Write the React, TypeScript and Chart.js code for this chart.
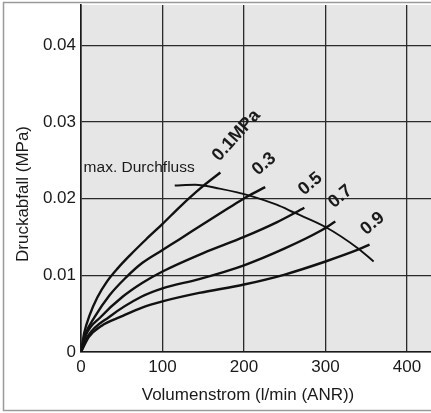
import React, { useEffect, useRef } from "react";
import { Chart, registerables } from "chart.js";

Chart.register(...registerables);

// Flow (l/min ANR) and pressure drop (MPa) per inlet pressure
const flow01 = [0, 4, 10.6, 20, 32, 45, 60, 80, 100, 122, 146, 171];
const drop01 = [0, 0.0025, 0.0048, 0.0071, 0.0092, 0.0109, 0.0126, 0.0147, 0.0167, 0.019, 0.0213, 0.0234];

const flow03 = [0, 5, 17, 35, 55, 75, 100, 121, 150, 180, 203, 226];
const drop03 = [0, 0.0022, 0.0046, 0.0074, 0.0097, 0.0116, 0.0133, 0.0147, 0.0167, 0.0187, 0.0202, 0.0215];

const flow05 = [0, 6, 24.5, 51, 75, 100, 150, 200, 240, 274];
const drop05 = [0, 0.0022, 0.0046, 0.0072, 0.009, 0.0105, 0.0129, 0.015, 0.0169, 0.0188];

const flow07 = [0, 8, 35, 74, 100, 145, 200, 250, 294, 312];
const drop07 = [0, 0.002, 0.0046, 0.0072, 0.0083, 0.0095, 0.0113, 0.0135, 0.0158, 0.017];

const flow09 = [0, 10, 25, 49, 75, 100, 145, 200, 250, 300, 339, 354];
const drop09 = [0, 0.002, 0.0034, 0.0046, 0.0058, 0.0066, 0.0077, 0.0088, 0.0101, 0.0118, 0.0133, 0.014];

// max. flow limit curve
const flowMax = [115, 140, 170, 210, 240, 261, 300, 340, 359];
const dropMax = [0.0217, 0.0218, 0.0213, 0.0203, 0.0192, 0.0182, 0.0163, 0.0135, 0.0118];

const pressureLabels = ["0.1MPa", "0.3", "0.5", "0.7", "0.9"];
const xTickValues = [0, 100, 200, 300, 400];
const xTickLabels = ["0", "100", "200", "300", "400"];
const yTickValues = [0, 0.01, 0.02, 0.03, 0.04];
const yTickLabels = ["0", "0.01", "0.02", "0.03", "0.04"];
const xTitle = "Volumenstrom (l/min (ANR))";
const yTitle = "Druckabfall (MPa)";
const maxFlowLabel = "max. Durchfluss";

const FONT = "'Liberation Sans', Arial, Helvetica, sans-serif";

const toPoints = (xs: number[], ys: number[]) => xs.map((x, i) => ({ x, y: ys[i] }));

// label offsets in pixels from each curve's end point, rotation in degrees
const labelStyle = [
  { dx: 16, dy: -37, rot: -48 },
  { dx: -1, dy: -23, rot: -41 },
  { dx: 6, dy: -24, rot: -40 },
  { dx: 5, dy: -25, rot: -40 },
  { dx: 3, dy: -21, rot: -40 },
];

const decorPlugin = {
  id: "decor",
  beforeDraw(chart: any) {
    const { ctx, chartArea: a, width, height } = chart;
    ctx.save();
    ctx.fillStyle = "#ffffff";
    ctx.fillRect(0, 0, width, height);
    ctx.fillStyle = "#e6e6e6";
    ctx.fillRect(a.left, a.top, a.right - a.left, a.bottom - a.top);
    ctx.strokeStyle = "#9a9a9a";
    ctx.lineWidth = 1.5;
    ctx.strokeRect(3.5, 2.5, width + 10, height - 5);
    ctx.restore();
  },
  afterDraw(chart: any) {
    const { ctx, scales } = chart;
    const xs = scales.x;
    const ys = scales.y;
    ctx.save();
    ctx.fillStyle = "#1a1a1a";
    // axis titles
    ctx.font = `17px ${FONT}`;
    ctx.textAlign = "center";
    ctx.textBaseline = "middle";
    ctx.fillText(xTitle, 248, 395);
    ctx.save();
    ctx.translate(23, 194);
    ctx.rotate(-Math.PI / 2);
    ctx.fillText(yTitle, 0, 0);
    ctx.restore();

    // pressure labels
    const ends = [
      [flow01, drop01],
      [flow03, drop03],
      [flow05, drop05],
      [flow07, drop07],
      [flow09, drop09],
    ];
    ctx.font = `bold 18px ${FONT}`;
    pressureLabels.forEach((t, i) => {
      const [fx, fy] = ends[i];
      const px = xs.getPixelForValue(fx[fx.length - 1]) + labelStyle[i].dx;
      const py = ys.getPixelForValue(fy[fy.length - 1]) + labelStyle[i].dy;
      ctx.save();
      ctx.translate(px, py);
      ctx.rotate((labelStyle[i].rot * Math.PI) / 180);
      ctx.fillText(t, 0, 0);
      ctx.restore();
    });

    // max flow label
    ctx.font = `15.5px ${FONT}`;
    ctx.textAlign = "right";
    const mx = xs.getPixelForValue(flowMax[0]);
    const my = ys.getPixelForValue(dropMax[0]);
    ctx.fillText(maxFlowLabel, mx + 20, my - 18);
    ctx.restore();
  },
};

export default function App() {
  const ref = useRef<HTMLCanvasElement | null>(null);
  useEffect(() => {
    if (!ref.current) return;
    const lineDs = (data: any) => ({
      data,
      borderColor: "#111111",
      borderWidth: 2.4,
      pointRadius: 0,
      showLine: true,
      fill: false,
      cubicInterpolationMode: "monotone" as const,
    });
    const chart = new Chart(ref.current, {
      type: "scatter",
      data: {
        datasets: [
          lineDs(toPoints(flow01, drop01)),
          lineDs(toPoints(flow03, drop03)),
          lineDs(toPoints(flow05, drop05)),
          lineDs(toPoints(flow07, drop07)),
          lineDs(toPoints(flow09, drop09)),
          { ...lineDs(toPoints(flowMax, dropMax)), borderWidth: 1.9 },
        ],
      },
      options: {
        responsive: false,
        animation: false,
        events: [],
        layout: { padding: { top: 5, right: 0, left: 0, bottom: 0 } },
        plugins: { legend: { display: false }, tooltip: { enabled: false } },
        scales: {
          x: {
            type: "linear",
            min: 0,
            max: 429.4,
            afterFit: (s: any) => {
              s.height = 61;
              s.paddingLeft = 0;
              s.paddingRight = 0;
            },
            afterBuildTicks: (s: any) => {
              s.ticks = xTickValues.map((v) => ({ value: v }));
            },
            ticks: {
              padding: 5,
              color: "#1a1a1a",
              font: { family: FONT, size: 17 },
              maxRotation: 0,
              callback: (v: any) => xTickLabels[xTickValues.indexOf(Number(v))] ?? "",
            },
            grid: { color: "#2a2a2a", lineWidth: 1.3, drawTicks: false },
            border: { display: true, color: "#1a1a1a", width: 1.6 },
          },
          y: {
            type: "linear",
            min: 0,
            max: 0.04524,
            afterFit: (s: any) => {
              s.width = 81;
              s.paddingTop = 0;
              s.paddingBottom = 0;
            },
            afterBuildTicks: (s: any) => {
              s.ticks = yTickValues.map((v) => ({ value: v }));
            },
            ticks: {
              padding: 5,
              color: "#1a1a1a",
              font: { family: FONT, size: 17 },
              callback: (v: any) => {
                const i = yTickValues.findIndex((t) => Math.abs(t - Number(v)) < 1e-9);
                return i >= 0 ? yTickLabels[i] : "";
              },
            },
            grid: { color: "#2a2a2a", lineWidth: 1.3, drawTicks: false },
            border: { display: true, color: "#1a1a1a", width: 1.6 },
          },
        },
      },
      plugins: [decorPlugin],
    });
    return () => chart.destroy();
  }, []);
  return (
    <div style={{ position: "absolute", left: 0, top: 0, width: 431, height: 413 }}>
      <canvas ref={ref} width={431} height={413} />
    </div>
  );
}
